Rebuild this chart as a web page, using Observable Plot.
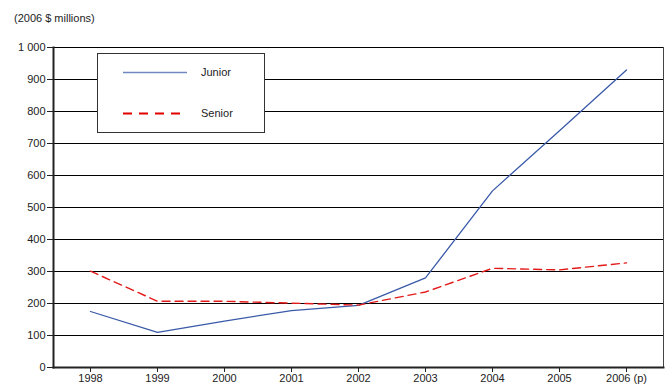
<!DOCTYPE html>
<html>
<head>
<meta charset="utf-8">
<script src="https://cdn.jsdelivr.net/npm/d3@7"></script>
<script src="https://cdn.jsdelivr.net/npm/@observablehq/plot@0.6"></script>
<style>
  html, body { margin: 0; padding: 0; background: #fff; }
  body { width: 665px; height: 385px; position: relative; overflow: hidden;
         font-family: "Liberation Sans", Arial, sans-serif; color: #222; }
  #title { position: absolute; left: 14px; top: 11px; font-size: 11px; line-height: 14px; }
  #chart { position: absolute; left: 0; top: 30px; }
  #legend { position: absolute; left: 97px; top: 53px; width: 168px; height: 80px;
            border: 1px solid #333; background: #fff; box-sizing: border-box; }
  #legend svg { position: absolute; left: 0; top: 0; }
  #legend span { position: absolute; left: 103px; font-size: 11px; line-height: 14px; }
</style>
</head>
<body>
<div id="title">(2006 $ millions)</div>
<div id="chart"></div>
<div id="legend">
  <svg width="100" height="79">
    <line x1="25" x2="89" y1="18.5" y2="18.5" stroke="#7088c0" stroke-width="1.5"/>
    <line x1="25" x2="87" y1="59.5" y2="59.5" stroke="#e00000" stroke-width="2" stroke-dasharray="9,7"/>
  </svg>
  <span style="top:11px">Junior</span>
  <span style="top:52px">Senior</span>
</div>
<script>
// Years on the category axis (2006 is preliminary)
const years = ["1998", "1999", "2000", "2001", "2002", "2003", "2004", "2005", "2006 (p)"];
// Spending in 2006 $ millions
const junior = [175, 110, 145, 178, 194, 280, 552, 740, 930];
const senior = [301, 207, 207, 201, 195, 236, 310, 305, 327];
const yTicks = [0, 100, 200, 300, 400, 500, 600, 700, 800, 900, 1000];

const rows = (values, series) => years.map((year, i) => ({year, value: values[i], series}));
const juniorRows = rows(junior, "Junior");
const seniorRows = rows(senior, "Senior");

const fmt = d3.formatLocale({thousands: " ", grouping: [3], decimal: "."}).format(",");

const chart = Plot.plot({
  width: 665,
  height: 355,
  marginTop: 17,
  marginBottom: 18,
  marginLeft: 53,
  marginRight: 2,
  style: {fontFamily: "'Liberation Sans', Arial, sans-serif", fontSize: "11px", color: "#222", background: "#fff"},
  x: {type: "point", domain: years, padding: 0.5, label: null},
  y: {domain: [0, 1000], label: null},
  marks: [
    Plot.ruleY(yTicks.slice(1), {stroke: "#000", strokeWidth: 1.2}),
    Plot.frame({anchor: "right", stroke: "#444", strokeWidth: 1}),
    Plot.axisY(yTicks, {tickSize: 6, tickPadding: 2, tickFormat: fmt, stroke: "#222", fill: "#222"}),
    Plot.axisX({tickSize: 5, tickPadding: 2, stroke: "#222", fill: "#222"}),
    Plot.line(juniorRows, {x: "year", y: "value", stroke: "#3a5aa8", strokeWidth: 1.3}),
    Plot.line(seniorRows, {x: "year", y: "value", stroke: "#e31a1a", strokeWidth: 1.4, strokeDasharray: "8,5"}),
    Plot.frame({anchor: "left", stroke: "#222", strokeWidth: 2}),
    Plot.frame({anchor: "bottom", stroke: "#222", strokeWidth: 2})
  ]
});
document.getElementById("chart").appendChild(chart);
</script>
</body>
</html>
